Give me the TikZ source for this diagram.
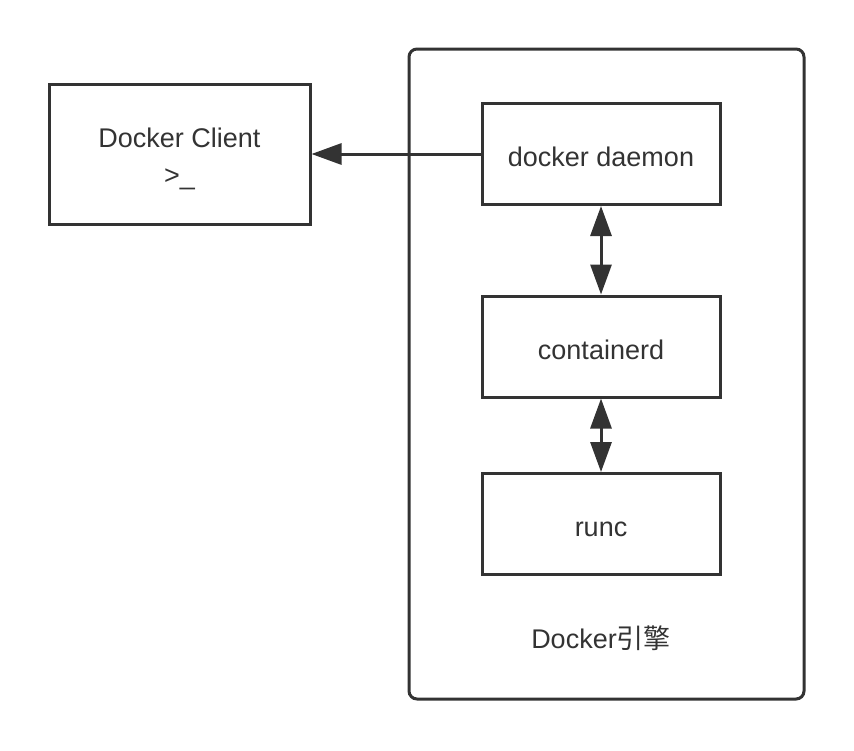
\documentclass[tikz,border=0pt]{standalone}
\usepackage{fontspec}
\setmainfont{Liberation Sans}
\newfontfamily\cjk{Noto Sans CJK SC}
\usetikzlibrary{arrows.meta}
\definecolor{ink}{HTML}{333333}
\begin{document}
\begin{tikzpicture}[x=0.5pt, y=-0.5pt,
        font=\fontsize{13.5}{18.5}\selectfont,
        box/.style={draw=ink, line width=1.5pt, text=ink, align=center,
            minimum width=119pt, minimum height=50.5pt, inner sep=0pt},
        link/.style={draw=ink, line width=1.5pt,
            -{Triangle[length=15pt, width=10.5pt]}},
        twoway/.style={link, {Triangle[length=15pt, width=10.5pt]}-{Triangle[length=15pt, width=10.5pt]}}]
    \useasboundingbox (0,0) rectangle (854,750);
    \node[draw=ink, line width=1.5pt, rounded corners=4pt, inner sep=0pt,
        minimum width=197.5pt, minimum height=325pt] (engine) at (606.5,374) {};
    \node[box, minimum width=130.5pt, minimum height=70pt] (client) at (179.5,154) {\rule{0pt}{15pt}Docker Client\\>\_};
    \node[box, text height=13pt] (daemon) at (601,154) {docker daemon};
    \node[box, text height=13pt] (containerd) at (601,346.5) {containerd};
    \node[box, text height=13pt] (runc) at (601,524) {runc};
    \node[text=ink, text height=13pt] (enginelabel) at (601,637) {Docker{\cjk 引擎}};
    \draw[link] (daemon) -- (client);
    \draw[twoway] (daemon) -- (containerd);
    \draw[twoway] (containerd) -- (runc);
\end{tikzpicture}
\end{document}
